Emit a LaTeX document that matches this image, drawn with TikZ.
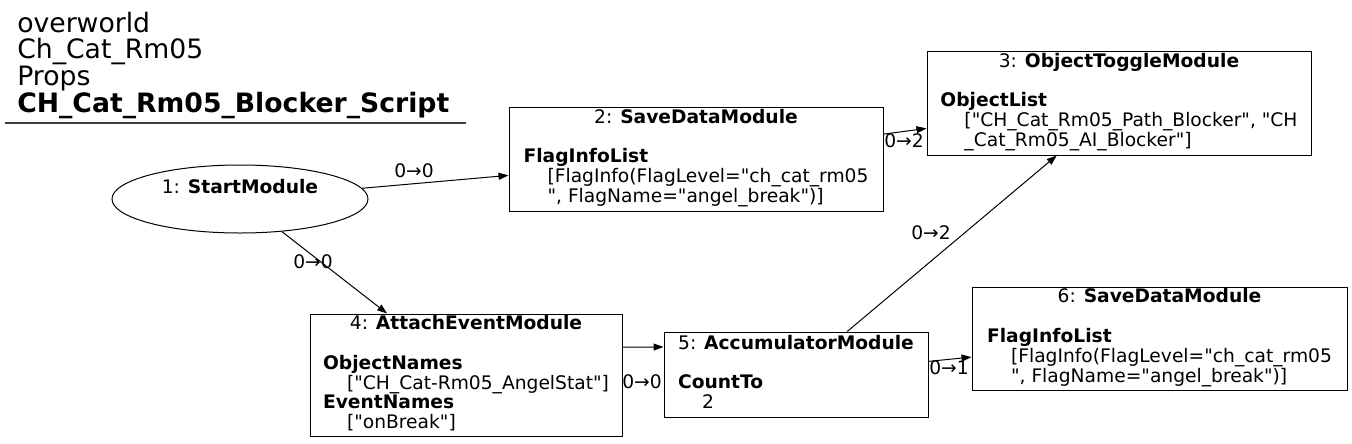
\documentclass[tikz,border=0pt]{standalone}
\usepackage{fontspec}
\setmainfont{DejaVu Sans}[Ligatures=TeXOff]
\usetikzlibrary{shapes.geometric,arrows.meta}
\newcommand\modfont{\fontsize{14}{14.6}\selectfont}
\newcommand\headfont{\fontsize{20}{20}\selectfont}

\begin{document}
\begin{tikzpicture}[x=0.75pt,y=-0.75pt,
  modbox/.style={draw, line width=0.75pt, inner sep=0pt, font=\modfont},
  modlabel/.style={font=\modfont, inner sep=0pt},
  link/.style={draw, line width=0.75pt, -{Triangle[length=7.5pt,width=5.25pt]}}]
  \useasboundingbox (0,0) rectangle (1352,443);
  % Title block
  \node[anchor=base west, align=left, font=\headfont, inner sep=0pt] (title) at (17,112)
        {overworld\\Ch\_Cat\_Rm05\\Props\\\textbf{CH\_Cat\_Rm05\_Blocker\_Script}};
  \draw[black!75, line width=1pt] (5,123) -- (466,123);
  % Modules
  \node[modbox, ellipse, minimum width=192pt, minimum height=51pt] (start1) at (240,199)
        {\begin{tabular}{@{}c@{}}1: \textbf{StartModule}\\ \strut\end{tabular}};
  \node[modbox, minimum width=280.5pt, minimum height=78pt] (save2) at (696,159)
        {\begin{tabular}{@{}l@{}}\multicolumn{1}{@{}c@{}}{2: \textbf{SaveDataModule}}\\ \\
         \textbf{FlagInfoList}\\
         \hspace*{18pt}[FlagInfo(FlagLevel="ch\_cat\_rm05\\
         \hspace*{18pt}", FlagName="angel\_break")]\end{tabular}};
  \node[modbox, minimum width=288pt, minimum height=78pt] (toggle3) at (1119,103)
        {\begin{tabular}{@{}l@{}}\multicolumn{1}{@{}c@{}}{3: \textbf{ObjectToggleModule}}\\ \\
         \textbf{ObjectList}\\
         \hspace*{18pt}["CH\_Cat\_Rm05\_Path\_Blocker", "CH\\
         \hspace*{18pt}\_Cat\_Rm05\_AI\_Blocker"]\end{tabular}};
  \node[modbox, minimum width=234pt, minimum height=91.5pt] (attach4) at (466,375)
        {\begin{tabular}{@{}l@{}}\multicolumn{1}{@{}c@{}}{4: \textbf{AttachEventModule}}\\ \\
         \textbf{ObjectNames}\\
         \hspace*{18pt}["CH\_Cat-Rm05\_AngelStat"]\\
         \textbf{EventNames}\\
         \hspace*{18pt}["onBreak"]\end{tabular}};
  \node[modbox, minimum width=198pt, minimum height=63.75pt] (accum5) at (796,374.5)
        {\begin{tabular}{@{}l@{}}\multicolumn{1}{@{}c@{}}{5: \textbf{AccumulatorModule}}\\ \\
         \textbf{CountTo}\\
         \hspace*{18pt}2\end{tabular}};
  \node[modbox, minimum width=281.25pt, minimum height=77.25pt] (save6) at (1159.5,338.5)
        {\begin{tabular}{@{}l@{}}\multicolumn{1}{@{}c@{}}{6: \textbf{SaveDataModule}}\\ \\
         \textbf{FlagInfoList}\\
         \hspace*{18pt}[FlagInfo(FlagLevel="ch\_cat\_rm05\\
         \hspace*{18pt}", FlagName="angel\_break")]\end{tabular}};
  % Links
  \draw[link] (start1) -- (save2);
  \draw[link] (start1) -- (attach4);
  \draw[link] (save2) -- (toggle3);
  \draw[link] ([yshift=21pt]attach4.east) -- ([yshift=20.6pt]accum5.west);
  \draw[link] (accum5) -- (toggle3);
  \draw[link] (accum5) -- (save6);
  % Link labels
  \node[modlabel] (l12) at (414,171) {0→0};
  \node[modlabel] (l14) at (313,262) {0→0};
  \node[modlabel] (l23) at (904,141) {0→2};
  \node[modlabel] (l45) at (642,382) {0→0};
  \node[modlabel] (l53) at (931,233) {0→2};
  \node[modlabel] (l56) at (949,368) {0→1};
\end{tikzpicture}
\end{document}
